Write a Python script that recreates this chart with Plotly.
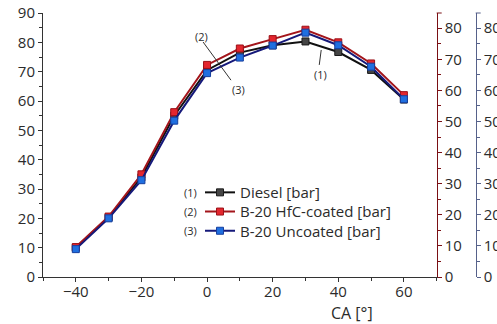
import plotly.graph_objects as go

ca = [-40, -30, -20, -10, 0, 10, 20, 30, 40, 50, 60]
diesel = [10.0, 20.3, 34.0, 55.0, 70.5, 76.5, 79.0, 80.3, 76.7, 70.6, 60.5]
hfc = [10.2, 20.6, 35.0, 56.2, 72.3, 77.9, 81.1, 84.3, 80.0, 72.8, 62.0]
uncoated = [9.5, 20.0, 33.0, 53.3, 69.5, 74.8, 78.9, 83.3, 79.0, 71.7, 60.6]

names = ["Diesel [bar]", "B-20 HfC-coated [bar]", "B-20 Uncoated [bar]"]
tags = ["(1)", "(2)", "(3)"]

FONT = "Open Sans"
TXT = "#2b2b2b"

styles = [
    dict(line="#111111", marker="#454545", edge="#1a1a1a"),
    dict(line="#a3151b", marker="#e3262e", edge="#9c1118"),
    dict(line="#15197a", marker="#1f6fe0", edge="#173f9e"),
]
series = [diesel, hfc, uncoated]
legend_ids = ["legend", "legend2", "legend3"]

fig = go.Figure()
for s in series:
    fig.add_trace(go.Scatter(x=ca, y=s, mode="lines", line=dict(color="white", width=5),
                             showlegend=False, hoverinfo="skip"))
for s, n, st, lg in zip(series, names, styles, legend_ids):
    fig.add_trace(go.Scatter(
        x=ca, y=s, mode="lines+markers", name=n, legend=lg,
        line=dict(color=st["line"], width=2),
        marker=dict(symbol="square", size=7, color=st["marker"],
                    line=dict(color=st["edge"], width=1)),
    ))
fig.add_trace(go.Scatter(x=[None], y=[None], yaxis="y2", showlegend=False))
fig.add_trace(go.Scatter(x=[None], y=[None], yaxis="y3", showlegend=False))

W, H = 497, 324
ml, mr, mt, mb = 43, 20, 13, 47
plot_w = W - ml - mr
plot_h = H - mt - mb
xdom_end = (436.7 - ml) / plot_w
blue_pos = (475.7 - ml) / plot_w
row_y = [192.3, 211.5, 230.7]

tickfont = dict(family=FONT, size=15, color=TXT)


def yax(color, rng, **kw):
    d = dict(range=rng, showgrid=False, zeroline=False, automargin=False,
             showline=True, linecolor=color, linewidth=1,
             ticks="outside", ticklen=4, tickcolor=color,
             tick0=0, dtick=10, tickfont=tickfont,
             minor=dict(ticks="outside", ticklen=3, dtick=5, tickcolor=color))
    d.update(kw)
    return d


def leg(i):
    return dict(x=(200 - ml) / plot_w, y=(276.7 - row_y[i]) / plot_h,
                xanchor="left", yanchor="middle", bgcolor="rgba(0,0,0,0)",
                font=dict(family=FONT, size=15, color=TXT))


fig.update_layout(
    width=W, height=H,
    margin=dict(l=ml, r=mr, t=mt, b=mb, pad=0, autoexpand=False),
    paper_bgcolor="white", plot_bgcolor="white",
    font=dict(family=FONT, color=TXT),
    showlegend=True,
    legend=leg(0), legend2=leg(1), legend3=leg(2),
    xaxis=dict(domain=[0, xdom_end], range=[-50, 70], showgrid=False, zeroline=False,
               automargin=False, showline=True, linecolor="#333333", linewidth=1,
               ticks="outside", ticklen=4, tickcolor="#333333",
               tick0=0, dtick=20, tickfont=tickfont, ticklabelstandoff=-3,
               minor=dict(ticks="outside", ticklen=3, dtick=10, tickcolor="#333333")),
    yaxis=yax("#333333", [0, 90]),
    yaxis2=yax("#7a1014", [0, 84.9], overlaying="y", anchor="x", side="right"),
    yaxis3=yax("#56618a", [0, 84.9], overlaying="y", anchor="free",
               position=blue_pos, side="right"),
)

cap = 5 / plot_w
fig.add_shape(type="line", xref="paper", yref="paper", x0=xdom_end, x1=xdom_end + cap,
              y0=1, y1=1, line=dict(color="#7a1014", width=1))
fig.add_shape(type="line", xref="paper", yref="paper", x0=blue_pos, x1=blue_pos + cap,
              y0=1, y1=1, line=dict(color="#56618a", width=1))

fig.add_shape(type="line", x0=-1.2, y0=80.1, x1=7.3, y1=67.1, line=dict(color="#333333", width=1))
fig.add_shape(type="line", x0=34.8, y0=77.4, x1=34.2, y1=72.3, line=dict(color="#333333", width=1))
fig.add_annotation(x=-1.7, y=82.0, text=tags[1], showarrow=False,
                   xanchor="center", yanchor="middle",
                   font=dict(family=FONT, size=11, color=TXT))
fig.add_annotation(x=9.6, y=64.0, text=tags[2], showarrow=False,
                   xanchor="center", yanchor="middle",
                   font=dict(family=FONT, size=11, color=TXT))
fig.add_annotation(x=34.5, y=69.2, text=tags[0], showarrow=False,
                   xanchor="center", yanchor="middle",
                   font=dict(family=FONT, size=11, color=TXT))

for i, t in enumerate(tags):
    fig.add_annotation(xref="paper", yref="paper", x=(190 - ml) / plot_w,
                       y=(276.7 - row_y[i]) / plot_h,
                       xanchor="center", yanchor="middle",
                       text=t, showarrow=False,
                       font=dict(family=FONT, size=11, color=TXT))

fig.add_annotation(xref="paper", yref="paper", x=(352 - ml) / plot_w,
                   y=(276.7 - 313) / plot_h, text="CA [°]", showarrow=False,
                   xanchor="center", yanchor="middle",
                   font=dict(family=FONT, size=16, color=TXT))

fig.write_html("out.html", config={"displayModeBar": False, "staticPlot": True})
with open("out.html", encoding="utf-8") as f:
    html = f.read()
html = html.replace("<body>", '<body style="margin:0;overflow:hidden">', 1)
with open("out.html", "w", encoding="utf-8") as f:
    f.write(html)
